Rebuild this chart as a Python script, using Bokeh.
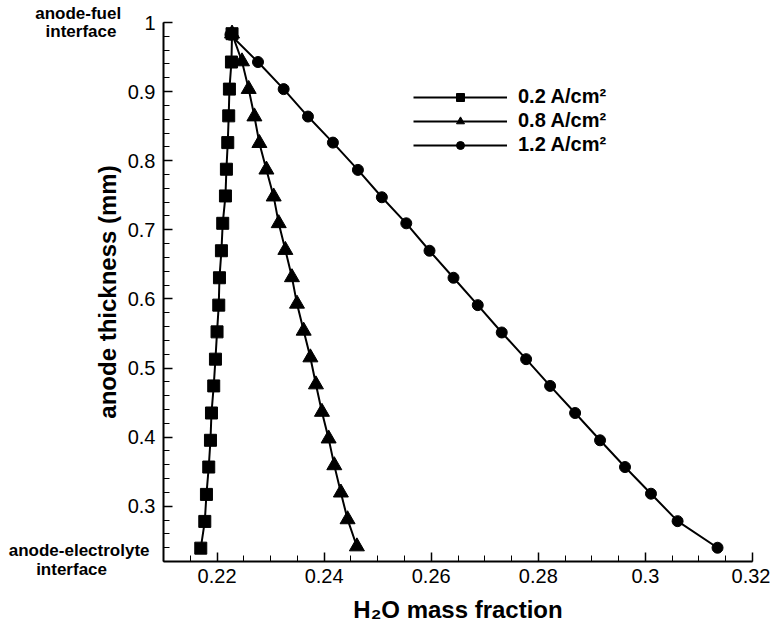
from bokeh.plotting import figure
from bokeh.models import (Range1d, FixedTicker, CustomJSTickFormatter, Legend,
                          LegendItem, LinearAxis)
from bokeh.embed import file_html
from bokeh.resources import INLINE
import numpy as np

# ---- data ----
thick_02 = [0.9838, 0.9428, 0.9036, 0.8649, 0.8262, 0.7877, 0.7490, 0.7094, 0.6697, 0.6306,
            0.5910, 0.5523, 0.5128, 0.4741, 0.4349, 0.3954, 0.3567, 0.3171, 0.2780, 0.2393]
h2o_02 = [0.22280, 0.22269, 0.22231, 0.22218, 0.22200, 0.22175, 0.22157, 0.22106, 0.22082, 0.22045,
          0.22032, 0.22000, 0.21970, 0.21938, 0.21896, 0.21877, 0.21845, 0.21802, 0.21771, 0.21696]

thick_08 = [0.9838, 0.9436, 0.9036, 0.8639, 0.8254, 0.7870, 0.7480, 0.7094, 0.6707, 0.6312,
            0.5929, 0.5538, 0.5152, 0.4761, 0.4364, 0.3978, 0.3591, 0.3196, 0.2809, 0.2417]
h2o_08 = [0.22280, 0.22466, 0.22591, 0.22698, 0.22791, 0.22922, 0.23058, 0.23152, 0.23276, 0.23399,
          0.23493, 0.23618, 0.23743, 0.23847, 0.23959, 0.24084, 0.24190, 0.24313, 0.24438, 0.24612]

thick_12 = [0.9823, 0.9428, 0.9036, 0.8639, 0.8262, 0.7867, 0.7471, 0.7094, 0.6697, 0.6306,
            0.5910, 0.5514, 0.5128, 0.4741, 0.4349, 0.3954, 0.3567, 0.3181, 0.2784, 0.2399]
h2o_12 = [0.22250, 0.22765, 0.23244, 0.23698, 0.24164, 0.24631, 0.25078, 0.25534, 0.25968, 0.26416,
          0.26869, 0.27317, 0.27772, 0.28220, 0.28687, 0.29153, 0.29619, 0.30104, 0.30601, 0.31347]

series_labels = ["0.2 A/cm²", "0.8 A/cm²", "1.2 A/cm²"]
x_ticks = [0.22, 0.24, 0.26, 0.28, 0.30, 0.32]
y_ticks = [0.3, 0.4, 0.5, 0.6, 0.7, 0.8, 0.9, 1.0]
x_label = "H₂O mass fraction"
y_label = "anode thickness (mm)"
top_note = ["anode-fuel", "interface"]
bottom_note = ["anode-electrolyte", "interface"]
note_levels = [0.2222, 1.0]   # thickness at which the side notes sit

FONT = "Liberation Sans"

p = figure(width=770, height=626, output_backend="svg", toolbar_location=None,
           x_range=Range1d(0.21, 0.32), y_range=Range1d(0.22, 1.0),
           min_border_left=163, min_border_right=18, min_border_top=22, min_border_bottom=65)
p.outline_line_color = None
p.xgrid.visible = False
p.ygrid.visible = False
p.background_fill_color = "white"
p.border_fill_color = "white"

fmt = CustomJSTickFormatter(code="return tick.toFixed(2).replace(/0+$/, '').replace(/\\.$/, '');")

p.xaxis.ticker = FixedTicker(ticks=x_ticks, minor_ticks=list(np.round(np.arange(0.21, 0.3201, 0.005), 4)))
p.yaxis.ticker = FixedTicker(ticks=y_ticks, minor_ticks=list(np.round(np.arange(0.22, 1.0001, 0.02), 4)))
for ax, standoff in ((p.xaxis, 7), (p.yaxis, 8)):
    ax.formatter = fmt
    ax.axis_line_width = 2
    ax.axis_line_color = "black"
    ax.major_tick_in = 9
    ax.major_tick_out = 0
    ax.minor_tick_in = 6
    ax.minor_tick_out = 0
    ax.major_tick_line_width = 1.5
    ax.minor_tick_line_width = 1
    ax.major_tick_line_color = "black"
    ax.minor_tick_line_color = "black"
    ax.major_label_text_font = FONT
    ax.major_label_text_font_size = "20px"
    ax.major_label_text_color = "black"
    ax.major_label_standoff = standoff
    ax.axis_label_text_font = FONT
    ax.axis_label_text_font_style = "bold"
    ax.axis_label_text_font_size = "24px"
    ax.axis_label_text_color = "black"

p.xaxis.axis_label = x_label
p.yaxis.axis_label = y_label
p.xaxis.axis_label_standoff = 10
p.yaxis.axis_label_standoff = 4

# side notes as labels of an extra, invisible left axis (side panels are not clipped)
NB = "\u00a0"
top_text = top_note[0] + NB * 6 + "\n" + top_note[1] + NB * 7
bottom_text = bottom_note[0] + "\n" + bottom_note[1] + NB * 9
notes_axis = LinearAxis(
    ticker=FixedTicker(ticks=note_levels, minor_ticks=[]),
    formatter=CustomJSTickFormatter(args=dict(top=top_text, bottom=bottom_text),
                                    code="return tick > 0.6 ? top : bottom;"))
notes_axis.axis_line_color = None
notes_axis.major_tick_line_color = None
notes_axis.minor_tick_line_color = None
notes_axis.major_tick_in = 0
notes_axis.major_tick_out = 0
notes_axis.minor_tick_in = 0
notes_axis.minor_tick_out = 0
notes_axis.major_label_standoff = -59
notes_axis.major_label_text_font = FONT
notes_axis.major_label_text_font_style = "bold"
notes_axis.major_label_text_font_size = "17px"
notes_axis.major_label_text_line_height = 0.95
notes_axis.major_label_text_color = "black"
p.add_layout(notes_axis, "left")

l12 = p.line(h2o_12, thick_12, line_color="black", line_width=2)
s12 = p.scatter(h2o_12, thick_12, marker="circle", size=11, color="black")
l08 = p.line(h2o_08, thick_08, line_color="black", line_width=2)
s08 = p.scatter(h2o_08, thick_08, marker="triangle", size=15, color="black")
l02 = p.line(h2o_02, thick_02, line_color="black", line_width=2)
s02 = p.scatter(h2o_02, thick_02, marker="square", size=12, color="black")

legend = Legend(items=[LegendItem(label=series_labels[0], renderers=[l02, s02]),
                       LegendItem(label=series_labels[1], renderers=[l08, s08]),
                       LegendItem(label=series_labels[2], renderers=[l12, s12])],
                location=(250, 405), glyph_width=94, glyph_height=20, label_height=20,
                spacing=1, padding=0, margin=0, label_standoff=11,
                border_line_color=None, background_fill_alpha=0,
                label_text_font=FONT, label_text_font_style="bold",
                label_text_font_size="20px", label_text_color="black")
p.add_layout(legend, "center")

open("out.html", "w").write(file_html(p, INLINE))
